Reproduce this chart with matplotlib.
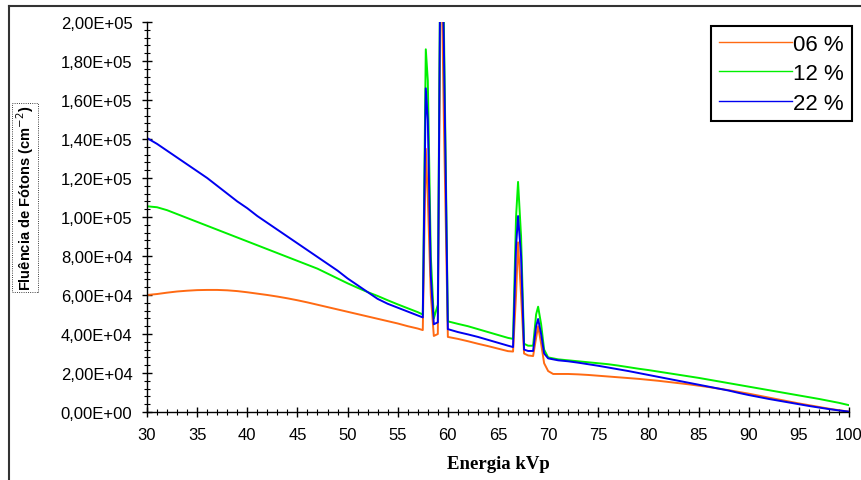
import matplotlib
matplotlib.use("Agg")
import matplotlib.pyplot as plt
from matplotlib.ticker import MultipleLocator, FuncFormatter
from matplotlib.lines import Line2D

# energy grid (kVp), denser around the characteristic peaks
energia = [30, 31, 32, 33, 34, 35, 36, 37, 38, 39, 40, 41, 42, 43, 44, 45, 46, 47, 48, 49,
           50, 51, 52, 53, 54, 55, 56, 57, 57.5, 57.8, 58.0, 58.3, 58.6, 59.0, 59.3, 59.6,
           60.0, 61, 62, 63, 64, 65, 66, 66.5, 66.8, 67.0, 67.3, 67.6, 68.0, 68.5, 68.8,
           69.0, 69.3, 69.6, 70, 70.5, 71, 72, 73, 74, 75, 76, 77, 78, 79, 80, 81, 82, 83,
           84, 85, 86, 87, 88, 89, 90, 91, 92, 93, 94, 95, 96, 97, 98, 99, 100]

fluencia_06 = [60000, 60500, 61200, 61800, 62200, 62500, 62600, 62600, 62400, 62000,
               61400, 60700, 60000, 59200, 58300, 57300, 56200, 55000, 53800, 52600,
               51400, 50200, 49000, 47800, 46600, 45400, 44000, 42800, 42000, 135000,
               110000, 60000, 39000, 40000, 250000, 150000,
               38500, 37500, 36300, 35000, 33800, 32500, 31200, 31000, 60000, 87000,
               60000, 30000, 29000, 28700, 38000, 44000, 35000, 25000, 21000, 19500,
               19500, 19500, 19300, 19000, 18600, 18200, 17800, 17400, 17000, 16500,
               16000, 15400, 14800, 14200, 13500, 12800, 12000, 11200, 10300, 9400,
               8400, 7400, 6400, 5400, 4400, 3500, 2600, 1700, 900, 200]

fluencia_12 = [105500, 105000, 103500, 101500, 99500, 97500, 95500, 93500, 91500, 89500,
               87500, 85500, 83500, 81500, 79500, 77500, 75500, 73500, 71000, 68500,
               66000, 63700, 61500, 59500, 57300, 55200, 53200, 51200, 50000, 186000,
               170000, 80000, 48000, 55000, 280000, 200000,
               46500, 45200, 44000, 42500, 41000, 39500, 38000, 37500, 100000, 118000,
               90000, 35000, 34000, 34000, 50000, 54000, 45000, 32000, 28000, 27500,
               27000, 26500, 26000, 25500, 25000, 24500, 23800, 23000, 22200, 21500,
               20700, 19900, 19100, 18300, 17500, 16600, 15700, 14800, 13900, 13000,
               12100, 11200, 10300, 9400, 8500, 7600, 6700, 5700, 4700, 3500]

fluencia_22 = [140500, 137500, 134000, 130500, 127000, 123500, 120000, 116000, 112000, 108000,
               104500, 100500, 97000, 93500, 90000, 86500, 83000, 79500, 76000, 72500,
               68500, 65000, 61500, 58000, 55500, 53500, 51500, 49500, 48500, 166000,
               150000, 70000, 45000, 46000, 270000, 190000,
               42500, 41000, 39800, 38500, 37000, 35500, 34000, 33300, 85000, 100500,
               80000, 32000, 31300, 31300, 44000, 47700, 40000, 30000, 27500, 27000,
               26500, 26000, 25300, 24500, 23700, 22800, 21900, 21000, 20000, 19000,
               18000, 17000, 16000, 15000, 14000, 13000, 12000, 11000, 9800, 8700,
               7700, 6700, 5800, 4900, 4000, 3100, 2300, 1500, 800, 200]

series = [("06 %", fluencia_06, "#FF6A13"),
          ("12 %", fluencia_12, "#00F000"),
          ("22 %", fluencia_22, "#0000F0")]

plt.rcParams["font.family"] = ["Liberation Sans", "DejaVu Sans"]

fig = plt.figure(figsize=(8.62, 4.81), dpi=100)
ax = fig.add_axes([147 / 862, 68 / 481, 702 / 862, 390 / 481])

for label, vals, color in series:
    ax.plot(energia, vals, color=color, lw=1.4, label=label)

ax.set_xlim(30, 100)
ax.set_ylim(0, 200000)
ax.xaxis.set_major_locator(MultipleLocator(5))
ax.xaxis.set_minor_locator(MultipleLocator(1))
ax.yaxis.set_major_locator(MultipleLocator(20000))
ax.yaxis.set_minor_locator(MultipleLocator(4000))
ax.yaxis.set_major_formatter(FuncFormatter(lambda v, p: f"{v:.2E}".replace(".", ",")))

for s in ["top", "right"]:
    ax.spines[s].set_visible(False)
for s in ["left", "bottom"]:
    ax.spines[s].set_linewidth(1.0)

ax.tick_params(which="major", direction="inout", length=7, width=1.0, labelsize=12, pad=7)
ax.tick_params(which="minor", direction="inout", length=4, width=0.8)

ax.set_xlabel("Energia kVp", family=["Liberation Serif"], fontweight="bold",
              fontsize=13.5, labelpad=10)
ax.set_ylabel("Fluência de Fótons (cm$^{-2}$)", family=["Liberation Sans Narrow", "Liberation Sans"],
              fontweight="bold", fontsize=10.5,
              bbox=dict(boxstyle="square,pad=0.15", fc="none", ec="black", ls=":", lw=0.6))
ax.yaxis.set_label_coords(-0.158, 0.55)

leg = ax.legend(loc="upper right", bbox_to_anchor=(852 / 862, 1 - 27 / 481),
                bbox_transform=fig.transFigure, borderaxespad=0, fancybox=False,
                framealpha=1, edgecolor="black", fontsize=16, handlelength=3.3,
                handletextpad=0.05, labelspacing=0.38, borderpad=0.35)
leg.get_frame().set_linewidth(1.5)
for line in leg.get_lines():
    line.set_linewidth(1.0)

# outer chart frame (top and left edges visible)
fig.add_artist(Line2D([9 / 862, 1], [1 - 7 / 481, 1 - 7 / 481], color="#333333", lw=1.5))
fig.add_artist(Line2D([9 / 862, 9 / 862], [0, 1 - 7 / 481], color="#333333", lw=1.5))

fig.savefig("out.png", dpi=100)
plt.close(fig)
